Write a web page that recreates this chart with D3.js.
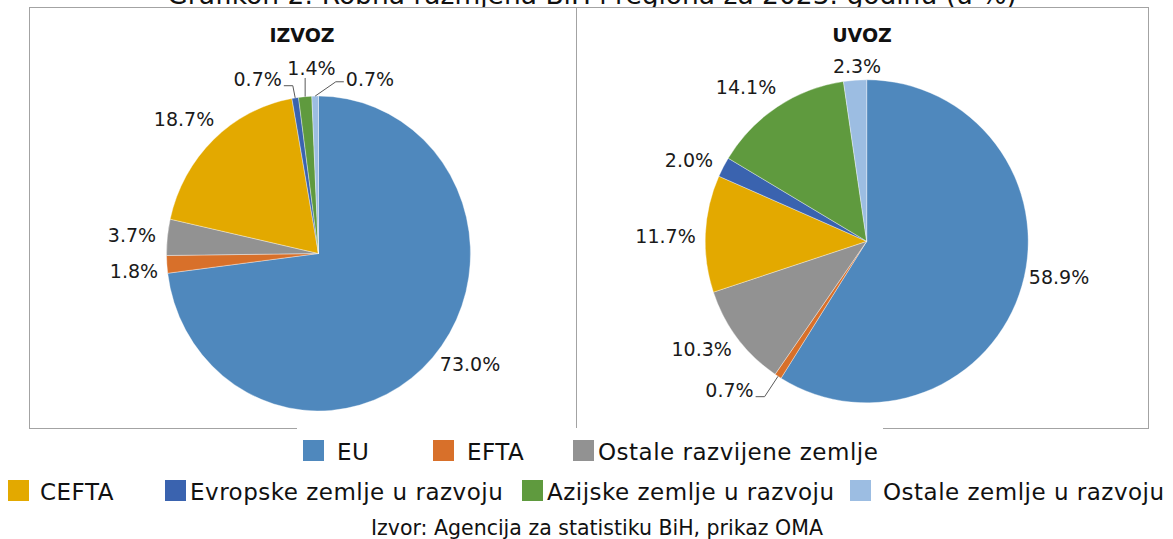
<!DOCTYPE html>
<html><head><meta charset="utf-8">
<script src="https://cdn.jsdelivr.net/npm/d3@7"></script>
<style>html,body{margin:0;padding:0;background:#fff;} svg{display:block;}</style>
</head><body>
<svg id="chart" width="1173" height="539"></svg>
<script>
// Trade structure by region, shares in percent
const categories = ["EU", "EFTA", "Ostale razvijene zemlje", "CEFTA",
  "Evropske zemlje u razvoju", "Azijske zemlje u razvoju", "Ostale zemlje u razvoju"];
const izvozValues = [73.0, 1.8, 3.7, 18.7, 0.7, 1.4, 0.7];
const uvozValues  = [58.9, 0.7, 10.3, 11.7, 2.0, 14.1, 2.3];
const panelTitles = ["IZVOZ", "UVOZ"];
const chartTitle = "Grafikon 2: Robna razmjena BiH i regiona za 2023. godinu (u %)";
const sourceNote = "Izvor: Agencija za statistiku BiH, prikaz OMA";

const colors = ["#4f88bd", "#d8702a", "#929292", "#e3a900", "#3a63af", "#5f9a3e", "#9cbde2"];
const FONT = "'DejaVu Sans', Verdana, sans-serif";

// geometry of each panel
const panels = [
  { title: panelTitles[0], values: izvozValues, box: [29.5, 7.5, 547, 421],
    cx: 318.5, cy: 253.5, r: 152, sy: 1.036, titleX: 302,
    nudge: [[10.5, -17.5], [3, 4.4], [0.5, 1.8], [-4.5, 5], [-32, 16.4], [9.5, 7.2], [55.6, 18.7]],
    leaders: { 4: "fromRight", 5: "vertical", 6: "fromLeft" } },
  { title: panelTitles[1], values: uvozValues, box: [576.5, 7.5, 572, 421],
    cx: 866.7, cy: 241.3, r: 161.5, sy: 1, titleX: 862,
    nudge: [[2.5, -18.8], [-28.8, -16.7], [-7.1, -10.9], [-3.9, 4.3], [-2.3, 9.8], [-11.2, 10.1], [4.6, 21.7]],
    leaders: { 1: "fromRight" } }
];

const svg = d3.select("#chart");
const color = d3.scaleOrdinal().domain(categories).range(colors);
const fmt = d3.format(".1f");

// chart title (runs off the top edge of the page)
svg.append("text")
  .attr("x", 592).attr("y", 4)
  .attr("text-anchor", "middle")
  .style("font-family", FONT).style("font-size", "26.5px").attr("fill", "#111")
  .text(chartTitle);

const pie = d3.pie().sort(null).value(d => d);

panels.forEach(p => {
  const [bx, by, bw, bh] = p.box;
  svg.append("rect").attr("x", bx).attr("y", by).attr("width", bw).attr("height", bh)
    .attr("fill", "#fff").attr("stroke", "#a3a3a3").attr("stroke-width", 1);

  svg.append("text").attr("x", p.titleX).attr("y", 42)
    .attr("text-anchor", "middle")
    .style("font-family", FONT).style("font-size", "19px").style("font-weight", "bold")
    .attr("fill", "#111").text(p.title);

  const arcs = pie(p.values);
  const arc = d3.arc().innerRadius(0).outerRadius(p.r);

  svg.append("g")
    .attr("transform", `translate(${p.cx},${p.cy}) scale(1,${p.sy})`)
    .selectAll("path").data(arcs).join("path")
    .attr("d", arc)
    .attr("fill", (d, i) => color(categories[i]))
    .attr("stroke", "#fff").attr("stroke-width", 0.6).attr("stroke-opacity", 0.6);

  const lg = svg.append("g");
  arcs.forEach((a, i) => {
    const mid = (a.startAngle + a.endAngle) / 2;
    const lx = p.cx + (p.r + 36) * Math.sin(mid) + p.nudge[i][0];
    const lyc = p.cy - (p.r * p.sy + 36) * Math.cos(mid) + p.nudge[i][1];
    const base = lyc + 7;
    const t = lg.append("text").attr("x", lx).attr("y", base)
      .attr("text-anchor", "middle")
      .style("font-family", FONT).style("font-size", "19px").attr("fill", "#1a1a1a")
      .text(fmt(p.values[i]) + "%");
    const kind = p.leaders[i];
    if (kind) {
      const bb = t.node().getBBox();
      const ax = p.cx + p.r * Math.sin(mid);
      const ay = p.cy - p.r * p.sy * Math.cos(mid);
      let pts;
      if (kind === "fromRight") {
        const sx = bb.x + bb.width + 2;
        pts = [[sx, base], [sx + 9, base], [ax, ay]];
      } else if (kind === "fromLeft") {
        const sx = bb.x - 2;
        pts = [[sx, base - 4], [sx - 8, base - 4], [ax, ay]];
      } else {
        pts = [[ax, base + 3], [ax, ay]];
      }
      lg.append("path").attr("d", d3.line()(pts))
        .attr("fill", "none").attr("stroke", "#595959").attr("stroke-width", 1);
    }
  });
});

// legend
const legendRows = [
  { y: 451, items: [[0, 303, 337], [1, 433, 467], [2, 573, 598]] },
  { y: 491, items: [[3, 8, 40], [4, 165, 190], [5, 522, 547], [6, 850, 883]] }
];
svg.append("rect").attr("x", 297).attr("y", 428).attr("width", 586).attr("height", 42).attr("fill", "#fff");
legendRows.forEach(row => {
  const g = svg.append("g");
  row.items.forEach(([i, sx, tx]) => {
    g.append("rect").attr("x", sx).attr("y", row.y - 11).attr("width", 21).attr("height", 21)
      .attr("fill", color(categories[i]));
    g.append("text").attr("x", tx).attr("y", row.y + 8.5)
      .style("font-family", FONT).style("font-size", "23px").style("letter-spacing", "0.5px")
      .attr("fill", "#111")
      .text(categories[i]);
  });
});

svg.append("text").attr("x", 597).attr("y", 535).attr("text-anchor", "middle")
  .style("font-family", FONT).style("font-size", "20.5px").attr("fill", "#111")
  .text(sourceNote);
</script>
</body></html>
